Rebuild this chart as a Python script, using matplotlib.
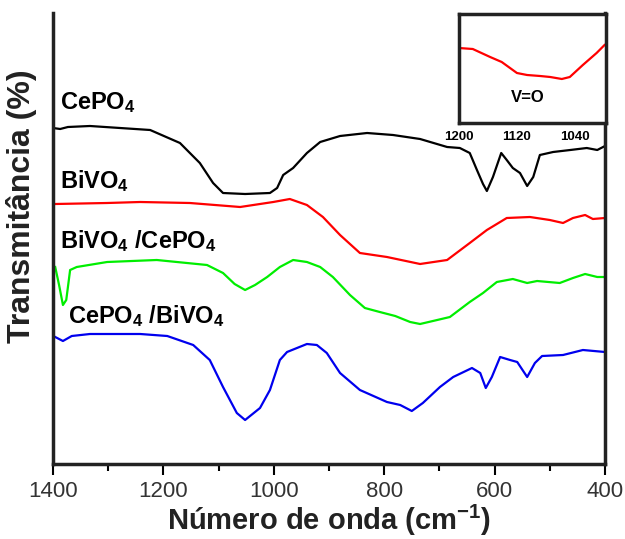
import matplotlib

matplotlib.use("Agg")
import matplotlib.pyplot as plt

# FTIR spectra (wavenumber in cm-1, transmittance in arbitrary offset units)
cepo4_w = [1400, 1387, 1373, 1333, 1224, 1170, 1134, 1110, 1092, 1052, 1007, 994,
           983, 965, 940, 916, 880, 831, 784, 735, 686, 663, 645, 632, 621, 614,
           603, 588, 578, 567, 554, 541, 530, 518, 494, 463, 433, 414, 400]
cepo4_t = [336, 335, 337, 338, 334, 321, 301, 281, 271, 270, 271, 276,
           289, 296, 311, 322, 328, 331, 329, 325, 317, 316, 311, 294, 280, 273,
           287, 311, 304, 296, 291, 278, 287, 309, 312, 314, 316, 314, 318]

bivo4_w = [1396, 1302, 1242, 1152, 1061, 1001, 971, 940, 911, 880, 844, 795,
           735, 686, 645, 614, 578, 536, 500, 476, 458, 436, 422, 400]
bivo4_t = [260, 261, 262, 261, 257, 262, 265, 259, 247, 229, 211, 207,
           200, 204, 221, 234, 246, 247, 244, 241, 246, 249, 245, 246]

bc_w = [1396, 1389, 1382, 1376, 1369, 1357, 1302, 1212, 1121, 1092, 1071, 1052,
        1034, 1012, 989, 965, 940, 916, 893, 862, 835, 808, 780, 753, 735, 704,
        681, 645, 621, 596, 567, 541, 523, 482, 458, 436, 414, 400]
bc_t = [197, 179, 159, 164, 194, 197, 202, 204, 199, 191, 180, 174,
        179, 187, 197, 204, 202, 197, 187, 169, 156, 152, 148, 142, 140, 144,
        147, 162, 171, 182, 185, 181, 183, 181, 186, 190, 187, 187]

cb_w = [1396, 1382, 1366, 1333, 1242, 1193, 1146, 1116, 1092, 1067, 1052, 1025,
        1007, 989, 976, 958, 940, 922, 904, 880, 844, 795, 771, 750, 730, 699,
        675, 641, 626, 616, 605, 590, 572, 559, 541, 527, 514, 476, 440, 400]
cb_t = [127, 123, 128, 130, 130, 128, 119, 104, 77, 51, 44, 56,
        74, 104, 112, 116, 120, 119, 111, 91, 74, 62, 59, 53, 61, 77,
        87, 96, 91, 76, 87, 107, 104, 102, 87, 101, 108, 109, 114, 112]

# inset: V=O band of BiVO4
inset_w = [1200, 1181, 1157, 1141, 1120, 1106, 1088, 1074, 1058, 1047, 1029, 1010, 999]
inset_t = [75, 74, 66, 61, 50, 48, 47, 46, 44, 46, 58, 70, 78]

labels = [r"CePO$_4$", r"BiVO$_4$", r"BiVO$_4$ /CePO$_4$", r"CePO$_4$ /BiVO$_4$"]
x_ticks = [1400, 1200, 1000, 800, 600, 400]
x_minor = [1300, 1100, 900, 700, 500]
inset_ticks = [1200, 1120, 1040]

plt.rcParams["font.family"] = ["Liberation Sans", "DejaVu Sans"]
plt.rcParams["mathtext.fontset"] = "custom"
plt.rcParams["mathtext.rm"] = "Liberation Sans:bold"
plt.rcParams["mathtext.default"] = "rm"

fig = plt.figure(figsize=(6.25, 5.39), dpi=100)
ax = fig.add_axes([53 / 625, 75 / 539, 552 / 625, 451 / 539])

lw = 1.6
ax.plot(cepo4_w, cepo4_t, color="black", linewidth=lw)
ax.plot(bivo4_w, bivo4_t, color="#ff0000", linewidth=lw)
ax.plot(bc_w, bc_t, color="#00ee00", linewidth=lw)
ax.plot(cb_w, cb_t, color="#0000ee", linewidth=lw)

ax.set_xlim(1400, 400)
ax.set_ylim(0, 451)
ax.set_xticks(x_ticks)
ax.set_xticks(x_minor, minor=True)
ax.set_yticks([])
ax.tick_params(axis="x", which="major", length=8, width=1.5, pad=4,
               labelsize=16, labelcolor="#333333")
ax.tick_params(axis="x", which="minor", length=5, width=1.5)
ax.spines["top"].set_visible(False)
for side in ("left", "right", "bottom"):
    ax.spines[side].set_linewidth(2.5)
    ax.spines[side].set_color("#222222")

ax.set_xlabel(r"Número de onda (cm$^{\mathregular{-1}}$)", fontsize=21,
              fontweight="bold", labelpad=1, color="#222222")
ax.set_ylabel("Transmitância (%)", fontsize=23, fontweight="bold", color="#222222")
ax.yaxis.set_label_coords(-0.029, 0.572)

label_pos = [(1387, 361), (1387, 283), (1387, 223), (1373, 148)]
for text, (xw, yt) in zip(labels, label_pos):
    ax.text(xw, yt, text, fontsize=17, fontweight="bold", ha="left", va="center")

# inset
ins = fig.add_axes([459 / 625, 416 / 539, 147 / 625, 109 / 539])
ins.plot(inset_w, inset_t, color="#ff0000", linewidth=lw)
ins.set_xlim(1200, 997)
ins.set_ylim(0, 109)
ins.set_xticks(inset_ticks)
ins.set_yticks([])
ins.tick_params(axis="x", length=0, pad=6, labelsize=9.5)
for lbl in ins.get_xticklabels():
    lbl.set_fontweight("bold")
for side in ins.spines.values():
    side.set_linewidth(2.5)
    side.set_color("#222222")
ins.text(0.47, 0.23, "V=O", transform=ins.transAxes, fontsize=12,
         fontweight="bold", ha="center", va="center")

fig.savefig("out.png", dpi=100)
